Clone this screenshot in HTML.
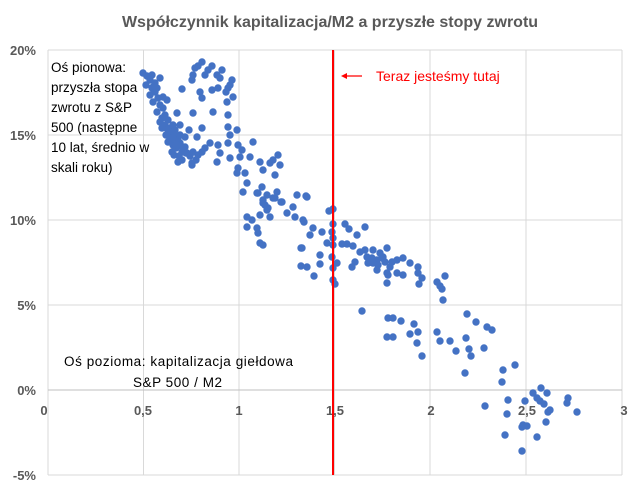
<!DOCTYPE html>
<html><head><meta charset="utf-8"><style>
body{margin:0;background:#fff}
svg{display:block}
text{font-family:"Liberation Sans",sans-serif}
</style></head><body>
<svg width="643" height="491" viewBox="0 0 643 491" xmlns="http://www.w3.org/2000/svg">
<rect width="643" height="491" fill="#fff"/>
<text x="330" y="27" text-anchor="middle" font-size="16" font-weight="bold" fill="#595959">Współczynnik kapitalizacja/M2 a przyszłe stopy zwrotu</text>
<g stroke="#d9d9d9" stroke-width="1">
<line x1="48" y1="50" x2="622" y2="50"/><line x1="48" y1="135" x2="622" y2="135"/><line x1="48" y1="220" x2="622" y2="220"/><line x1="48" y1="305" x2="622" y2="305"/><line x1="48" y1="475" x2="622" y2="475"/>
<line x1="48" y1="50" x2="48" y2="475"/><line x1="143.5" y1="50" x2="143.5" y2="475"/><line x1="239" y1="50" x2="239" y2="475"/><line x1="334.5" y1="50" x2="334.5" y2="475"/><line x1="430" y1="50" x2="430" y2="475"/><line x1="526" y1="50" x2="526" y2="475"/><line x1="622" y1="50" x2="622" y2="475"/>
</g>
<line x1="48" y1="390" x2="622" y2="390" stroke="#bfbfbf" stroke-width="1"/>
<g font-size="13" font-weight="bold" fill="#595959" text-anchor="end">
<text x="36" y="55">20%</text><text x="36" y="140">15%</text><text x="36" y="225">10%</text><text x="36" y="310">5%</text><text x="36" y="395">0%</text><text x="36" y="480">-5%</text>
</g>
<g font-size="13" font-weight="bold" fill="#595959" text-anchor="middle">
<text x="44" y="415">0</text><text x="143" y="415">0,5</text><text x="239" y="415">1</text><text x="335" y="415">1,5</text><text x="431" y="415">2</text><text x="527" y="415">2,5</text><text x="624" y="415">3</text>
</g>
<g fill="#4472C4">
<circle cx="143" cy="73" r="3.7"/><circle cx="147" cy="76" r="3.7"/><circle cx="150" cy="80" r="3.7"/><circle cx="146" cy="85" r="3.7"/><circle cx="152" cy="88" r="3.7"/><circle cx="155" cy="92" r="3.7"/><circle cx="150" cy="95" r="3.7"/><circle cx="158" cy="98" r="3.7"/><circle cx="153" cy="102" r="3.7"/><circle cx="160" cy="105" r="3.7"/><circle cx="163" cy="108" r="3.7"/><circle cx="157" cy="112" r="3.7"/><circle cx="165" cy="115" r="3.7"/><circle cx="162" cy="118" r="3.7"/><circle cx="168" cy="120" r="3.7"/><circle cx="160" cy="122" r="3.7"/><circle cx="165" cy="125" r="3.7"/><circle cx="170" cy="128" r="3.7"/><circle cx="172" cy="132" r="3.7"/><circle cx="166" cy="135" r="3.7"/><circle cx="175" cy="135" r="3.7"/><circle cx="170" cy="138" r="3.7"/><circle cx="178" cy="140" r="3.7"/><circle cx="168" cy="142" r="3.7"/><circle cx="180" cy="143" r="3.7"/><circle cx="173" cy="145" r="3.7"/><circle cx="176" cy="148" r="3.7"/><circle cx="183" cy="150" r="3.7"/><circle cx="172" cy="152" r="3.7"/><circle cx="186" cy="153" r="3.7"/><circle cx="179" cy="156" r="3.7"/><circle cx="190" cy="156" r="3.7"/><circle cx="182" cy="160" r="3.7"/><circle cx="196" cy="160" r="3.7"/><circle cx="193" cy="152" r="3.7"/><circle cx="185" cy="137" r="3.7"/><circle cx="189" cy="130" r="3.7"/><circle cx="175" cy="130" r="3.7"/><circle cx="170" cy="140" r="3.7"/><circle cx="177" cy="139" r="3.7"/><circle cx="181" cy="146" r="3.7"/><circle cx="174" cy="155" r="3.7"/><circle cx="185" cy="147" r="3.7"/><circle cx="168" cy="130" r="3.7"/><circle cx="162" cy="128" r="3.7"/><circle cx="180" cy="125" r="3.7"/><circle cx="167" cy="100" r="3.7"/><circle cx="155" cy="83" r="3.7"/><circle cx="160" cy="78" r="3.7"/>
<circle cx="152" cy="75" r="3.7"/><circle cx="153" cy="87" r="3.7"/><circle cx="157" cy="88" r="3.7"/><circle cx="163" cy="97" r="3.7"/><circle cx="177" cy="113" r="3.7"/><circle cx="173" cy="125" r="3.7"/><circle cx="167" cy="135" r="3.7"/><circle cx="173" cy="138" r="3.7"/><circle cx="180" cy="135" r="3.7"/><circle cx="177" cy="145" r="3.7"/><circle cx="182" cy="152" r="3.7"/><circle cx="178" cy="162" r="3.7"/><circle cx="192" cy="165" r="3.7"/><circle cx="187" cy="153" r="3.7"/><circle cx="197" cy="137" r="3.7"/><circle cx="202" cy="128" r="3.7"/><circle cx="193" cy="113" r="3.7"/><circle cx="182" cy="89" r="3.7"/>
<circle cx="202" cy="62" r="3.7"/><circle cx="195" cy="68" r="3.7"/><circle cx="193" cy="75" r="3.7"/><circle cx="192" cy="80" r="3.7"/><circle cx="208" cy="70" r="3.7"/><circle cx="217" cy="75" r="3.7"/><circle cx="220" cy="78" r="3.7"/><circle cx="230" cy="85" r="3.7"/><circle cx="232" cy="80" r="3.7"/><circle cx="228" cy="88" r="3.7"/><circle cx="212" cy="90" r="3.7"/><circle cx="218" cy="88" r="3.7"/><circle cx="200" cy="92" r="3.7"/><circle cx="202" cy="98" r="3.7"/><circle cx="233" cy="97" r="3.7"/><circle cx="227" cy="102" r="3.7"/><circle cx="213" cy="112" r="3.7"/><circle cx="228" cy="115" r="3.7"/><circle cx="198" cy="66" r="3.7"/><circle cx="212" cy="66" r="3.7"/><circle cx="222" cy="70" r="3.7"/><circle cx="205" cy="75" r="3.7"/><circle cx="226" cy="92" r="3.7"/>
<circle cx="210" cy="143" r="3.7"/><circle cx="218" cy="145" r="3.7"/><circle cx="228" cy="143" r="3.7"/><circle cx="230" cy="135" r="3.7"/><circle cx="237" cy="130" r="3.7"/><circle cx="228" cy="127" r="3.7"/><circle cx="220" cy="153" r="3.7"/><circle cx="217" cy="162" r="3.7"/><circle cx="202" cy="152" r="3.7"/><circle cx="192" cy="163" r="3.7"/><circle cx="205" cy="148" r="3.7"/><circle cx="198" cy="155" r="3.7"/><circle cx="230" cy="158" r="3.7"/><circle cx="238" cy="145" r="3.7"/><circle cx="242" cy="150" r="3.7"/><circle cx="240" cy="157" r="3.7"/><circle cx="238" cy="168" r="3.7"/><circle cx="237" cy="173" r="3.7"/><circle cx="245" cy="173" r="3.7"/><circle cx="247" cy="183" r="3.7"/><circle cx="243" cy="192" r="3.7"/><circle cx="250" cy="157" r="3.7"/><circle cx="253" cy="142" r="3.7"/>
<circle cx="257" cy="193" r="3.7"/><circle cx="262" cy="187" r="3.7"/><circle cx="267" cy="195" r="3.7"/><circle cx="263" cy="203" r="3.7"/><circle cx="268" cy="208" r="3.7"/><circle cx="260" cy="215" r="3.7"/><circle cx="270" cy="217" r="3.7"/><circle cx="273" cy="198" r="3.7"/><circle cx="277" cy="192" r="3.7"/><circle cx="282" cy="202" r="3.7"/><circle cx="247" cy="217" r="3.7"/><circle cx="252" cy="220" r="3.7"/><circle cx="247" cy="227" r="3.7"/><circle cx="257" cy="228" r="3.7"/><circle cx="258" cy="233" r="3.7"/><circle cx="260" cy="243" r="3.7"/><circle cx="263" cy="245" r="3.7"/><circle cx="287" cy="213" r="3.7"/><circle cx="293" cy="207" r="3.7"/><circle cx="295" cy="217" r="3.7"/><circle cx="303" cy="220" r="3.7"/><circle cx="307" cy="197" r="3.7"/><circle cx="297" cy="195" r="3.7"/><circle cx="302" cy="248" r="3.7"/><circle cx="310" cy="235" r="3.7"/>
<circle cx="260" cy="162" r="3.7"/><circle cx="263" cy="170" r="3.7"/><circle cx="270" cy="163" r="3.7"/><circle cx="273" cy="160" r="3.7"/><circle cx="278" cy="155" r="3.7"/><circle cx="280" cy="165" r="3.7"/><circle cx="275" cy="175" r="3.7"/><circle cx="258" cy="193" r="3.7"/><circle cx="263" cy="200" r="3.7"/><circle cx="267" cy="210" r="3.7"/><circle cx="275" cy="198" r="3.7"/><circle cx="265" cy="205" r="3.7"/>
<circle cx="329" cy="211" r="3.7"/><circle cx="333" cy="209" r="3.7"/><circle cx="333" cy="224" r="3.7"/><circle cx="332" cy="232" r="3.7"/><circle cx="333" cy="238" r="3.7"/><circle cx="327" cy="243" r="3.7"/><circle cx="333" cy="245" r="3.7"/><circle cx="332" cy="257" r="3.7"/><circle cx="337" cy="263" r="3.7"/><circle cx="333" cy="268" r="3.7"/><circle cx="333" cy="280" r="3.7"/><circle cx="335" cy="284" r="3.7"/><circle cx="320" cy="255" r="3.7"/><circle cx="320" cy="264" r="3.7"/><circle cx="314" cy="276" r="3.7"/><circle cx="301" cy="248" r="3.7"/><circle cx="301" cy="266" r="3.7"/><circle cx="307" cy="267" r="3.7"/><circle cx="313" cy="228" r="3.7"/><circle cx="322" cy="232" r="3.7"/><circle cx="304" cy="222" r="3.7"/><circle cx="281" cy="202" r="3.7"/><circle cx="306" cy="196" r="3.7"/>
<circle cx="345" cy="224" r="3.7"/><circle cx="349" cy="229" r="3.7"/><circle cx="342" cy="244" r="3.7"/><circle cx="347" cy="244" r="3.7"/><circle cx="353" cy="246" r="3.7"/><circle cx="357" cy="235" r="3.7"/><circle cx="365" cy="227" r="3.7"/><circle cx="360" cy="252" r="3.7"/><circle cx="355" cy="262" r="3.7"/><circle cx="352" cy="267" r="3.7"/><circle cx="365" cy="250" r="3.7"/><circle cx="368" cy="263" r="3.7"/><circle cx="373" cy="250" r="3.7"/><circle cx="377" cy="260" r="3.7"/><circle cx="380" cy="253" r="3.7"/><circle cx="383" cy="257" r="3.7"/><circle cx="387" cy="248" r="3.7"/><circle cx="377" cy="270" r="3.7"/><circle cx="387" cy="273" r="3.7"/><circle cx="390" cy="267" r="3.7"/><circle cx="397" cy="260" r="3.7"/><circle cx="403" cy="258" r="3.7"/><circle cx="410" cy="263" r="3.7"/><circle cx="397" cy="273" r="3.7"/><circle cx="403" cy="275" r="3.7"/><circle cx="418" cy="267" r="3.7"/><circle cx="367" cy="257" r="3.7"/><circle cx="373" cy="263" r="3.7"/><circle cx="372" cy="258" r="3.7"/><circle cx="378" cy="265" r="3.7"/><circle cx="382" cy="258" r="3.7"/><circle cx="385" cy="262" r="3.7"/><circle cx="392" cy="262" r="3.7"/>
<circle cx="387" cy="283" r="3.7"/><circle cx="388" cy="275" r="3.7"/><circle cx="419" cy="284" r="3.7"/><circle cx="422" cy="278" r="3.7"/><circle cx="418" cy="273" r="3.7"/><circle cx="437" cy="282" r="3.7"/><circle cx="440" cy="286" r="3.7"/><circle cx="442" cy="289" r="3.7"/><circle cx="445" cy="276" r="3.7"/><circle cx="443" cy="300" r="3.7"/><circle cx="362" cy="311" r="3.7"/>
<circle cx="388" cy="318" r="3.7"/><circle cx="393" cy="318" r="3.7"/><circle cx="401" cy="321" r="3.7"/><circle cx="414" cy="324" r="3.7"/><circle cx="387" cy="337" r="3.7"/><circle cx="393" cy="337" r="3.7"/><circle cx="410" cy="334" r="3.7"/><circle cx="418" cy="332" r="3.7"/><circle cx="417" cy="343" r="3.7"/><circle cx="422" cy="356" r="3.7"/><circle cx="437" cy="332" r="3.7"/><circle cx="440" cy="341" r="3.7"/><circle cx="450" cy="341" r="3.7"/><circle cx="456" cy="351" r="3.7"/><circle cx="467" cy="314" r="3.7"/><circle cx="476" cy="322" r="3.7"/><circle cx="487" cy="327" r="3.7"/><circle cx="492" cy="330" r="3.7"/><circle cx="466" cy="338" r="3.7"/><circle cx="469" cy="349" r="3.7"/><circle cx="471" cy="356" r="3.7"/><circle cx="484" cy="348" r="3.7"/><circle cx="465" cy="373" r="3.7"/><circle cx="503" cy="370" r="3.7"/><circle cx="515" cy="365" r="3.7"/><circle cx="502" cy="382" r="3.7"/>
<circle cx="541" cy="388" r="3.7"/><circle cx="533" cy="393" r="3.7"/><circle cx="547" cy="393" r="3.7"/><circle cx="537" cy="398" r="3.7"/><circle cx="540" cy="401" r="3.7"/><circle cx="544" cy="404" r="3.7"/><circle cx="525" cy="401" r="3.7"/><circle cx="508" cy="400" r="3.7"/><circle cx="485" cy="406" r="3.7"/><circle cx="507" cy="414" r="3.7"/><circle cx="550" cy="410" r="3.7"/><circle cx="548" cy="412" r="3.7"/><circle cx="568" cy="398" r="3.7"/><circle cx="567" cy="403" r="3.7"/><circle cx="577" cy="412" r="3.7"/><circle cx="546" cy="422" r="3.7"/><circle cx="523" cy="425" r="3.7"/><circle cx="527" cy="426" r="3.7"/><circle cx="522" cy="427" r="3.7"/><circle cx="505" cy="435" r="3.7"/><circle cx="537" cy="437" r="3.7"/><circle cx="522" cy="451" r="3.7"/>
</g>
<line x1="333" y1="50" x2="333" y2="475" stroke="#ff0000" stroke-width="2"/>
<line x1="362" y1="76" x2="345" y2="76" stroke="#ff0000" stroke-width="1.2"/>
<polygon points="341,76 347,73 347,79" fill="#ff0000"/>
<text x="376" y="81" font-size="14" fill="#ff0000">Teraz jesteśmy tutaj</text>
<g font-size="13.5" fill="#000">
<text x="51" y="72">Oś pionowa:</text>
<text x="51" y="92">przyszła stopa</text>
<text x="51" y="112">zwrotu z S&amp;P</text>
<text x="51" y="132">500 (następne</text>
<text x="51" y="152">10 lat, średnio w</text>
<text x="51" y="172">skali roku)</text>
<text x="64" y="366" textLength="229" lengthAdjust="spacing">Oś pozioma:  kapitalizacja giełdowa</text>
<text x="133" y="387" textLength="89" lengthAdjust="spacing">S&amp;P 500 / M2</text>
</g>
</svg>
</body></html>
